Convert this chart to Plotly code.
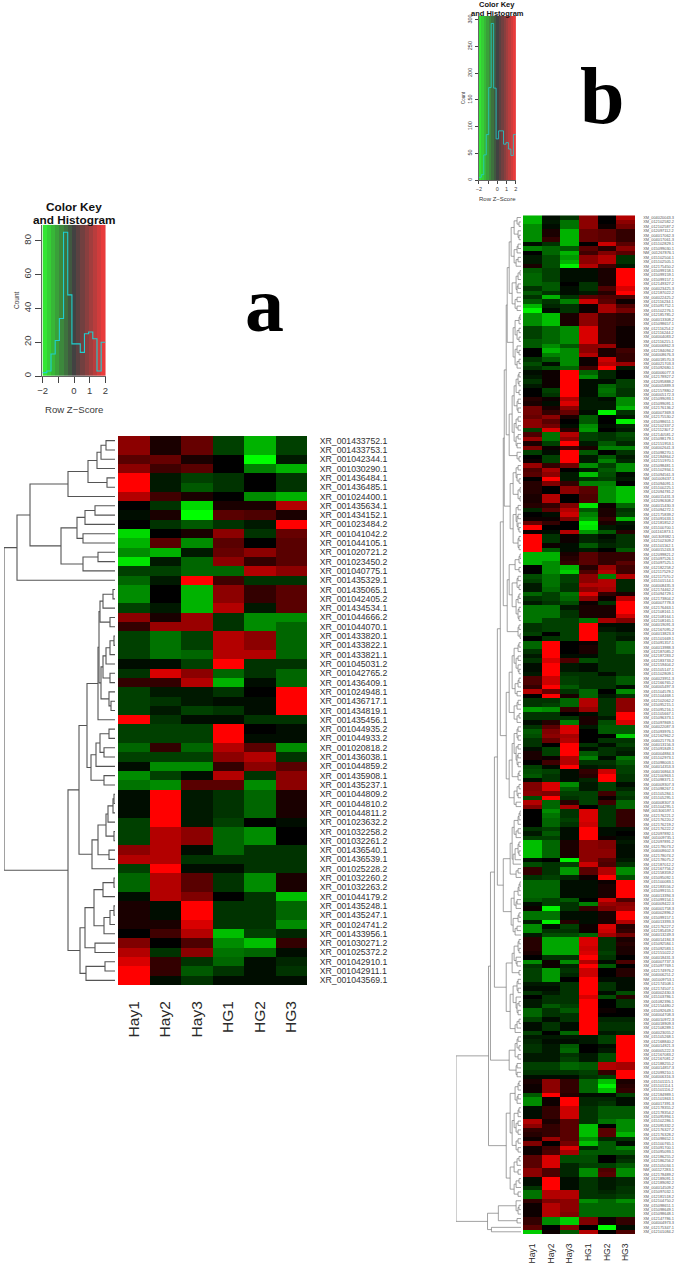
import plotly.graph_objects as go

SAMPLES = ["Hay1", "Hay2", "Hay3", "HG1", "HG2", "HG3"]

# ---------- panel a ----------
a_labels = """XR_001433752.1 XR_001433753.1 XR_001042344.1 XR_001030290.1 XR_001436484.1 XR_001436485.1 XR_001024400.1
XR_001435634.1 XR_001434152.1 XR_001023484.2 XR_001041042.2 XR_001044105.1 XR_001020721.2 XR_001023450.2 XR_001040775.1
XR_001435329.1 XR_001435065.1 XR_001042405.2 XR_001434534.1 XR_001044666.2 XR_001044070.1 XR_001433820.1 XR_001433822.1
XR_001433821.1 XR_001045031.2 XR_001042765.2 XR_001436409.1 XR_001024948.1 XR_001436717.1 XR_001434819.1 XR_001435456.1
XR_001044935.2 XR_001044933.2 XR_001020818.2 XR_001436038.1 XR_001044859.2 XR_001435908.1 XR_001435237.1 XR_001044809.2
XR_001044810.2 XR_001044811.2 XR_001023632.2 XR_001032258.2 XR_001032261.2 XR_001436540.1 XR_001436539.1 XR_001025228.2
XR_001032260.2 XR_001032263.2 XR_001044179.2 XR_001435248.1 XR_001435247.1 XR_001024741.2 XR_001433956.1 XR_001030271.2
XR_001025372.2 XR_001042910.1 XR_001042911.1 XR_001043569.1""".split()

a_values = [
[1.1,0.2,0.8,-0.5,-1.4,-0.5],[1.1,0.2,0.8,-0.5,-1.4,-0.5],[0.7,0.8,0.2,0,-2,-0.2],[1.1,0.5,0.7,0,-1,-1.4],
[2,-0.2,-0.5,-0.4,0,-0.4],[2,-0.2,-0.7,-0.4,0,-0.4],[1.4,0.5,0.2,0,-1.1,-1.4],[0,-0.4,-1.7,0.2,0.2,1.4],
[-0.1,0.2,-2,0.7,0.6,0.2],[0,-0.4,-0.7,-0.4,-0.2,2],[-1.7,0,0.2,1.1,-0.4,0.8],[-1.4,0.7,-1.1,0.7,0,0.7],
[-1.1,-1.4,-0.2,0.8,1.1,0.7],[-1.8,-0.2,-0.8,1.1,0.4,0.7],[-0.5,-0.5,-0.8,-0.8,1.4,1.1],[-0.8,-0.2,2,0.5,-0.4,-0.4],
[-1.1,0,-1.4,1.1,0.4,0.7],[-1.1,0,-1.4,1.1,0.4,0.7],[-0.5,-0.2,-1.4,1.4,-0.2,0.7],[1.1,0.2,1.2,-0.4,-1.1,-1.1],
[0.4,1.2,1.2,-0.4,-1.1,-0.8],[-0.5,-0.9,-0.5,1.4,1.1,-0.8],[-0.5,-0.9,-0.5,1.4,1.1,-0.8],[-0.5,-0.9,-0.8,1.4,1.4,-0.8],
[-0.1,-0.1,-0.5,2,-0.4,-0.4],[-0.4,1.7,1.1,-0.8,-0.4,-0.8],[0.4,0.4,1.4,-1.4,-0.1,-0.8],[-0.5,-0.2,-0.2,-0.4,0,2],
[-0.5,-0.4,-0.2,-0.1,-0.1,2],[-0.5,-0.2,-0.5,-0.4,-0.1,2],[2,-0.4,-0.1,-0.1,-0.4,-0.4],[-0.5,-0.5,-0.5,2,0,-0.1],
[-0.5,-0.5,-0.5,2,-0.1,-0.1],[-0.8,0.4,-0.8,1.4,0.7,-1.1],[-0.5,-0.5,-0.5,1.1,1.4,-0.4],[-0.1,-1.1,-1.1,0.4,1.1,0.7],
[-1.1,-0.5,-0.1,1.4,-0.4,1.1],[-0.9,-1.1,0.7,0.7,-1.1,1.1],[-0.1,2,-0.2,-0.4,-0.8,0.2],[-0.1,2,-0.2,-0.4,-0.8,0.2],
[-0.1,2,-0.2,-0.4,-0.8,0.2],[-0.5,2,-0.2,-0.5,0,-0.1],[-0.5,1.4,1.1,-0.8,-1.1,0],[-0.5,1.4,1.1,-0.8,-1.1,0],
[1.1,1.4,-0.1,-0.8,-0.4,-0.4],[1.4,1.4,-0.4,-0.4,-0.4,-0.4],[-0.5,2,-0.1,-0.1,-0.4,-0.4],[-0.8,1.4,0.7,-0.4,-1.1,0.2],
[-0.8,1.4,0.7,-0.4,-1.1,0.2],[-0.1,1.4,1.0,0,-0.4,-1.5],[0.2,-0.1,2,-0.4,-0.4,-0.8],[0.2,-0.1,2,-0.4,-0.4,-0.8],
[0.2,0.2,1.7,-0.4,-0.4,-1.1],[0,0.5,1.4,-1.5,-0.5,-0.3],[1,0,0.6,-1.1,-1.5,0.4],[1.4,-0.4,1.1,-0.9,-0.8,-0.1],
[1.7,0.4,-0.4,-0.8,-0.1,-0.3],[2,0.4,-0.7,-0.4,-0.1,-0.4],[2,-0.1,-0.4,-0.1,-0.1,-0.1],
]

# nested merges: (height, child, child); 1 is a leaf
a_tree = (111,
  (98,
    (85,
      (47,(27,(18,(14,(9,1,1),1),1),(8,1,1)),1),
      (54,(38,(30,(20,1,1),1),(32,1,1)),(32,(17,1,1),1))),
    1),
  (47,
    (36,
      (28,
        (17,
          (16,
            (15,(12,(2,1,1),1),(5,1,1)),
            (14,(12,(9,(5,(1,1,1),1),1),(5,1,1)),(6,1,(4,1,1)))),
          1),
        (24,(19,(15,(6,1,1),(11,1,1)),1),(11,1,1))),
      (23,(17,(9,(7,(2,(1,1,1),1),1),(1,1,1)),(6,1,1)),1)),
    (35,
      (30,
        (21,(12,(1,1,1),1),(11,(5,(1,1,1),1),1)),
        (20,1,1)),
      (29,(10,1,1),1))))

a_hist_counts = [2,3,13,21,34,85,48,19,19,14,25,26,22,3,20]
b_hist_counts = [5,10,47,85,173,293,172,77,92,92,67,70,58,46,85]
hist_breaks = [-2,-1.733,-1.467,-1.2,-0.933,-0.667,-0.4,-0.133,0.133,0.4,0.667,0.933,1.2,1.467,1.733,2]
key_band_values = [-1.867,-1.6,-1.333,-1.067,-0.8,-0.533,-0.267,0,0.267,0.533,0.8,1.067,1.333,1.6,1.867]

# ---------- panel b ----------
b_labels = """XM_004020043.3 XM_012102582.2 XM_012102587.2 XM_012097112.2 XM_004017062.3 XM_004017061.3 XM_015102829.1 XM_015099030.1
NM_001267876.1 XM_015102504.1 XM_015102505.1 XM_012175450.2 XM_015099158.1 XM_015099159.1 XM_015099157.1 XM_012149327.2 XM_004023425.3
XM_012187022.2 XM_004022425.2 XM_012116234.1 XM_015091752.1 XM_015102276.1 XM_012185785.2 XM_004013308.2 XM_015098657.1 XM_012116254.2
XM_012116244.2 XM_004004083.2 XM_012116215.1 XM_004006862.3 XM_012184094.2 XM_004008676.3 XM_004018570.3 XM_004021703.3 XM_015092680.1
XM_004006077.3 XM_012178927.2 XM_012095888.2 XM_004005889.3
XM_012157880.2 XM_004005172.3 XM_015099093.1 XM_015099091.1 XM_012176136.2 XM_004007369.3 XM_012175530.2 XM_015098651.1 XM_012102337.2
XM_012112307.2 XM_012140581.2 XM_015098179.1 XM_012151953.1 XM_004002641.3 XM_015098270.1 XM_012184864.2 XM_012151970.1 XM_015098481.1
XM_015102934.1 XM_015094561.3 NM_001009437.1 XM_015094091.1 XM_015100225.1 XM_012094781.2 XM_004015431.3 XM_012096308.2 XM_004015430.3
XM_015094272.1 XM_012175839.2 XM_015091633.1 XM_012181852.2 XM_015100700.1 XM_001161873.1 NM_001309382.1 XM_012102309.2 XM_015101162.1
XM_004015243.3 XM_012099821.2 XM_015097526.1 XM_015097525.1 XM_012182258.2 XM_012117529.2
XM_012117570.2 XM_015101514.1 XM_004008435.3 XM_012174462.2 XM_015094729.1 XM_012173804.2 XM_004007778.3 XM_012176463.1 XM_012108161.1
XM_012108164.1 XM_012108165.1 XM_004019091.3 XM_012167095.2 XM_004013823.3 XM_015101669.1 XM_015091357.1 XM_004013988.3 XM_012187085.2
XM_012187283.2 XM_012183733.2 XM_012159404.2 XM_015105147.1 XM_015102809.1 XM_004023951.3 XM_012166765.2 XM_004005497.3 XM_015104578.1
XM_015104468.1 XM_012102062.2 XM_015095215.1 XM_015095216.1 XM_015105667.1 XM_015096373.1 XM_015097869.1 XM_004022087.3 XM_015093976.1
XM_012162962.2 XM_004021776.3 XM_004013156.3 XM_015091849.1
XM_004004884.3 XM_015102973.1 XM_015098003.1 XM_004014353.3 XM_004016864.3 XM_012100963.1 XM_015098371.1 XM_004009307.3 XM_015098267.1
XM_015105284.1 XM_015105295.1 XM_004008307.3 XM_015104295.1 NM_001306597.1 XM_012176221.2 XM_012176220.2 XM_012176219.2 XM_012176222.2
XM_012097892.1 NM_001009735.1 XM_012097891.2 XM_012178073.2 XM_004008602.3 XM_012178074.2 XM_012178075.2 XM_012187012.2 XM_012167756.2
XM_012158359.2 XM_015095092.1 XM_015100083.1 XM_012183556.2 XM_015099155.1 XM_004013394.3 XM_015099154.1 XM_004009422.3 XM_004001758.3
XM_004002896.2 XM_015099157.1 XM_004013393.3 XM_012176227.2 XM_012185459.2
XM_004013249.3 XM_004014184.3 XM_015092584.1 XM_015092583.1 XM_012151022.2 XM_004018431.3 XM_004007737.3 XM_015097769.1 XM_012174976.2
XM_004006251.2 NM_001009753.1 XM_012174508.1 XM_012174507.1 XM_004002430.3 XM_015103786.1 XM_001082396.1 XM_012154480.2 XM_015092649.1
XM_004004708.3 XM_004010972.3 XM_004018909.3 XM_012108289.1 XM_004023055.2 XM_015105268.1 XM_012168840.2 XM_004014921.3 XM_004005222.3
XM_012167083.2 XM_012167081.2 XM_012188255.2 XM_004014857.3 XM_012099210.1 XM_004006316.3 XM_015101115.1 XM_015101114.1 XM_015101116.2
XM_012184989.1 XM_015101863.1
XM_004017391.3 XM_012178355.2 XM_012178354.2 XM_015095994.1 XM_015102286.1 XM_012095332.2 XM_012176327.2 XM_012176328.2 XM_015098652.1
XM_015100765.1 XM_015091700.1 XM_015095093.1 XM_012186255.2 XM_012186256.2 XM_015105034.1 NM_001127283.1 XM_012178489.2 XM_012189091.1
XM_012189092.2 XM_004014509.2 XM_015097032.1 XM_012181518.2 XM_012104750.2 XM_015098651.1 XM_015098649.1 XM_015098648.1 XM_012147786.1
XM_004004973.3 XM_012175347.1 XM_012101084.2""".split()

b_values = [
[-1.4,-0.1,-0.4,1.1,0,1.4],[-1.4,-0.2,-0.9,1.1,0,1.1],[-1.1,-0.1,-0.9,1.1,0.1,0.9],[-1.1,0.2,-1.4,0.8,0.7,0.4],
[-1.1,0.2,-1.4,0.8,0.7,0.4],[-1.1,0.4,-1.4,0.8,0.7,0.4],[-0.1,-0.4,-1.4,0,1.6,0.7],[-1,-0.8,-0.7,0.7,0.3,1.1],
[0,-0.8,-1.4,0.5,1,0.7],[-0.2,-0.6,-1.2,1.1,1.4,-0.4],[-0.2,-0.6,-1.4,1.1,1.4,-0.4],[0.2,-0.6,-1.9,1.4,0.5,-0.2],
[-0.7,-0.5,-0.1,-0.1,0.2,2],[-0.8,-0.5,-0.1,-0.1,0.2,2],[-0.8,-0.5,-0.1,-0.1,0.2,2],[-0.8,-0.7,0,-0.4,0.2,2],
[-0.4,-0.7,-0.1,-0.4,0.6,1.7],[-0.7,-0.4,-0.1,-0.2,0.3,2],[-0.4,-1.4,-0.4,0.7,0.6,0.6],[-0.7,-0.4,-1,1.6,0.7,0.1],
[-1.4,-0.3,-0.4,0.1,1.3,0.6],[-1.9,-0.1,-0.4,0.1,1.3,0.9],[-1.1,-1.5,0.2,1.1,0.4,0.3],[-1.1,-1.5,0.2,1.1,0.4,0.3],
[-1.1,-1.5,0.2,1.1,0.4,0.3],[-0.5,-0.8,-1.1,1.7,0.4,0.1],[-0.5,-0.8,-1.1,1.7,0.4,0.1],[-0.5,-0.8,-1.1,1.7,0.4,0.1],
[-0.7,-0.8,-1.1,1.7,0.4,0.1],[-0.7,-1.1,-0.7,1.1,1.2,0.1],[0,-1.4,-1.1,1.1,0.2,0.5],[0,-1,-1.1,1.4,0.2,0.4],
[-0.4,-0.7,-1.1,0.1,1.6,0.4],[-0.6,-0.1,-1.1,0.1,1.4,1.2],[-0.4,-0.6,-0.8,0.5,2,-0.2],[-0.1,0.1,2,-0.8,-0.3,0],
[-0.2,0.1,2,-1.1,-0.3,0],[-0.4,0.1,2,-0.1,-0.1,-0.5],[-0.2,0.1,2,-0.1,-0.8,-0.5],
[0,-0.5,2,-0.1,-0.9,-0.4],[0,-0.4,2,-0.1,-0.8,-0.4],[0.3,0.1,1.4,-0.2,-0.1,-1.1],[0.2,-0.1,1.7,-0.2,-0.2,-1.1],
[0.9,0.2,1.1,-0.2,-0.2,-1.4],[0.9,0.4,0.8,-0.1,-1.9,-0.4],[0.8,1.1,0.2,-0.7,0,-0.2],[1.1,0.7,0,-0.7,0,-1.9],
[1.1,0.9,-0.1,-1.1,-0.1,-0.3],[-0.5,1.7,0.3,-1.2,0,-0.2],[0.6,-0.9,1.4,-0.5,-0.4,-0.6],[1.2,-0.9,1.1,-0.5,-0.4,-0.5],
[0.2,-0.5,2,-0.2,-0.7,-0.3],[1,0.1,0.5,0.2,-1,-1],[-0.5,-0.1,2,-0.7,0,-0.4],[0,-0.5,2,-0.2,-0.7,-0.2],
[0.1,-0.5,2,-0.2,-1,-0.3],[1.2,0.4,0.9,-1.1,-0.5,-1.1],[0.6,1.3,0,-0.2,-0.7,-1.1],[0.7,1.1,-0.2,-1.5,-0.6,-0.1],
[0,2,-0.2,-0.4,-0.5,-0.2],[0.3,1,0.4,-1,-1,0],[0.3,0,1.1,0.7,-1.1,-1.5],[0.3,0,1.1,0.7,-1.1,-1.5],
[0.2,1.4,0,0.6,-1.1,-1.5],[0.2,1.4,0,0.6,-1.1,-1.5],[0.3,0.4,1,-1.8,0.1,-0.8],[-0.3,0.7,1.4,-0.7,0.2,-0.4],
[0,-0.1,1.6,-1,0.2,-0.5],[0.1,0.1,1,-1.2,0.4,-1.4],[0.8,0.4,0,-1.9,0.2,-0.2],[2,0,0,-1.8,-0.2,-0.1],
[0.1,-0.1,1.4,-1.2,-0.7,0.3],[2,-0.4,0.1,-0.3,-0.1,-0.4],[2,-0.4,0.1,-0.3,-0.2,-0.4],[2,0.1,-0.1,-0.7,-0.3,-0.4],
[2,-0.7,-0.1,-0.2,0,-0.7],[-1.4,-1.4,0.2,0.7,0.4,0.4],[-1.4,-1.4,0.3,0.7,0.4,0.4],[-1.4,-1.1,0.4,0.7,0.4,0.7],
[0,-1.1,-1.4,0.3,1.2,0.5],
[0,-1.1,-1.6,0.6,1.4,0.5],[-0.6,-0.9,-0.5,1.1,-1,1.4],[-0.5,-0.9,-0.5,1.1,1.4,-0.3],[-0.2,-0.9,-0.4,1.4,1.4,-0.3],
[-0.2,-0.8,-0.4,1.1,1.3,-0.3],[-0.8,-0.5,-0.9,1.7,0.4,0.2],[-0.4,-0.5,-0.8,1.1,0.1,1.4],[-0.2,-0.4,-0.6,0.1,-0.4,2],
[-0.9,-0.9,-0.2,0.2,0.2,2],[-0.9,-0.9,-0.4,0.2,0.2,2],[-0.9,-0.9,-0.4,0.2,0.2,1.6],[-0.9,-0.5,-0.5,-0.9,1.3,1],
[-0.4,-0.5,-0.5,2,-0.1,-0.1],[-0.4,-0.5,-0.5,2,-0.2,-0.1],[-0.5,0,-0.5,2,-0.4,-0.3],[0,-0.4,-0.5,2,-0.4,-0.2],
[-0.8,2,0,0.1,-0.4,-0.7],[-0.8,2,0,0.2,-0.4,-0.7],[-0.4,2,0,0.2,-0.4,-0.7],[-0.2,2,-0.1,-0.1,-0.4,-0.4],
[-0.4,1.7,0.6,-0.6,-0.4,-0.4],[-0.1,2,-0.2,-0.1,-0.4,-0.4],[-0.1,2,-0.2,-0.1,-0.4,-0.4],[-0.2,2,-0.4,-0.4,-0.1,-0.4],
[0.6,1.6,-0.5,-0.4,-0.4,-0.7],[0.6,1.6,-0.5,-0.4,-0.4,-0.7],[0.4,2,-0.7,-0.4,-0.4,-0.1],[1.4,0.8,-0.4,-0.8,0,-1.1],
[0,2,0.2,-0.8,-0.2,-0.4],[-0.4,-0.4,-0.8,1.4,-0.4,1.1],[-0.4,-0.5,-0.8,1.4,-0.4,1.1],[-1.2,-1.1,0.4,1.2,-0.4,1.1],
[-0.4,-0.4,0,-0.1,-0.4,2],[-0.4,-0.4,-0.4,0.2,-0.2,2],[-0.1,0.3,-1,0.2,-0.6,1.7],[-0.4,0.7,1.7,-0.2,-0.7,-0.7],
[-0.7,1,1.7,0,-0.7,-0.7],[-0.6,1.1,1.3,0,0,-1.6],[-0.4,0.8,1.4,0,-0.4,-0.4],[-0.4,0,2,-0.4,-0.1,-0.5],
[-0.1,-0.5,2,-0.1,-0.4,-0.3],[0.2,-0.5,2,-0.7,-0.4,-0.2],[0.2,0.1,1.4,-1,-0.1,-0.9],[0,0.5,1.4,-0.4,-0.4,-0.7],
[-0.5,-0.1,2,-0.2,-0.3,-0.5],[-0.6,-0.5,-0.1,0.4,1.6,-0.5],[-0.7,-0.4,-0.1,0.3,2,-0.4],[-0.1,-0.4,-0.1,-0.3,2,-0.4],
[1,1.7,-1.1,-0.2,-0.5,-0.1],[1,1.7,-0.7,-0.2,-0.5,-0.3],[1.1,1,-0.5,-0.5,0.5,-0.5],[-0.6,2,-0.4,-0.5,0.1,-0.4],
[1.4,-0.8,0.3,-0.5,0.5,-0.8],[1,-0.8,1.3,0,-0.4,-0.8],[0,-1.1,-0.4,1.7,-0.4,0.4],[0,-0.9,-0.4,1.7,-0.4,0.4],
[0,-0.8,-0.5,1.7,-0.4,0.4],[0,-0.8,-0.4,1.6,-0.4,0.4],[-0.4,-0.5,-0.1,2,-0.1,-0.1],[-0.2,-0.7,-0.1,2,-0.1,0],
[-0.5,-0.5,-0.1,2,0.1,-0.1],[-1.5,-0.8,0.2,1.1,1,-0.2],[-1.5,-0.8,0.2,1.1,1,-0.1],[-1.5,-0.8,0.2,1.1,1.1,-0.1],
[-1.5,-0.8,0.2,1.1,1.1,-0.1],[-0.1,0,-1.9,1.1,0.7,-0.2],[-0.6,-0.4,-0.5,1.6,0.6,-0.4],[0.4,-0.4,-1.2,0.7,1.4,-1.1],
[0.4,-0.4,-1.2,0.7,1.4,-1.1],[-0.4,-0.5,-0.3,0.1,2,-0.6],[-0.8,-0.8,-0.1,-0.1,0.1,2],[-0.8,-0.8,-0.1,-0.1,0.2,2],
[-0.8,-0.8,-0.1,-0.1,0.2,2],[-0.8,-0.8,-0.1,-0.1,0.2,2],[-0.7,-0.5,-0.7,0,1.6,0.6],[-0.1,-0.5,-0.4,-1,1.2,1.1],
[0.1,-1.9,-0.4,0.4,1,1.2],[-0.9,-0.9,-0.1,-0.1,0.2,2],[-0.9,-0.9,-0.1,-0.1,0.2,2],[-0.2,-1.9,0.3,-0.1,0.2,1.4],
[-1.1,-0.1,-0.5,0.1,1.7,0.3],[-1.1,-0.4,-0.4,0.1,1.6,0.4],[-0.2,-0.6,-0.6,-0.8,1.3,0.9],[0.3,-1.3,-1.3,1.7,-0.4,0.2],
[0.3,-1.3,-1.3,1.7,-0.4,0.3],[0.3,-1.3,-1.3,1.6,-0.4,0.2],[0.2,-1.3,-1.3,1.7,-0.5,0.2],[0,-0.4,-0.4,2,-0.4,0],
[-1.1,0.1,-1.1,1.4,-0.1,0.6],[-0.4,0.1,-0.3,2,-0.7,0],[-0.5,-1.2,-0.4,1.6,0,0.3],[-0.5,-1.2,-0.3,1.6,0,0.3],
[-0.5,-1.2,0,2,-0.1,-0.1],[-0.2,-0.2,-0.4,2,-0.4,-0.1],[-0.1,-0.1,-0.4,2,-0.4,-0.1],[-0.4,-0.2,-0.4,2,-0.1,-0.6],
[0,-0.4,-0.4,1.7,-0.6,0.3],[-0.2,-0.4,-0.4,2,0,-0.4],[-0.2,-0.7,-0.5,2,0,-0.4],[-0.8,-0.4,-0.7,2,0.1,0],
[-0.8,-0.4,-0.4,2,0,0],[-0.5,-0.1,-0.4,2,-0.3,-0.3],[-0.1,-0.4,-0.1,2,-0.4,-0.4],[-0.1,-0.4,-0.1,2,-0.4,-0.4],
[-0.5,0,-0.8,2,-0.2,-0.3],[-0.2,-0.2,-0.2,-0.2,-0.5,2],[-0.3,-0.1,-0.1,-0.2,-0.5,2],[-0.4,-0.2,-0.7,0,-0.1,2],
[-0.4,-0.2,-0.8,0,-0.2,2],[-0.2,-0.2,-0.4,-0.2,-0.6,2],[-0.2,-0.2,-0.5,-0.2,-0.6,2],[-0.5,-0.5,-0.8,-0.7,1.4,1.3],
[-0.5,-0.5,-0.8,-0.7,1.4,1.3],[-0.4,-0.4,-0.4,-0.5,0.4,2],[-0.1,-0.1,-0.1,-0.4,-0.5,2],[0.2,1.1,0.4,-0.8,-1.5,0.2],
[0.1,1.1,0.4,-0.8,-1.9,0.3],[0.1,1.1,0.4,-0.8,-1.5,0.4],[-0.7,2,0.3,-0.1,-0.1,-0.5],
[-1.1,0.1,2,-0.3,-0.3,-0.1],[-1.1,0.1,2,-0.3,-0.4,-0.1],[-0.1,0.4,1.6,-0.4,-0.7,-0.7],[-0.1,0.4,1.6,-0.4,-0.7,-0.7],
[-0.1,0.4,1.6,-0.4,-0.7,-0.7],[1.4,0.2,0.7,-0.4,-0.9,-1.1],[1.1,0.4,0.7,-1.5,0,-1.1],[0.4,0.4,0.7,-1.5,0.7,-1.1],
[0.3,0.4,0.7,-1.5,0.7,-1.4],[0.1,1.2,0.7,-1.1,-0.3,-0.4],[1,0,0.9,-1.5,-0.7,-0.1],[0.1,0.5,1.7,-0.3,-0.7,-1],
[0.1,0.6,1.3,-0.7,-0.7,-0.7],[0.7,1.7,-0.6,-0.6,0,-0.3],[0.7,1.7,-0.6,-0.6,0,-0.4],[0.7,1.7,-0.3,-0.5,-0.5,-0.7],
[1.1,0.6,-0.3,-1.1,0.6,-1.1],[1.1,0.6,-0.3,-1.1,0.7,-1.1],[-0.1,2,-0.1,-0.4,-0.2,-0.3],[-0.1,2,-0.1,-0.4,-0.2,-0.3],
[-0.4,2,-0.1,-0.4,-0.2,-0.4],[-0.9,1.4,1.4,-0.4,-0.3,-0.4],[-0.9,1.4,1.4,-0.4,-0.4,-0.5],[0.4,1.0,1.1,-1.1,-0.8,-1.1],
[0.1,1.4,1.1,-0.8,-0.8,-0.8],[0.1,1.4,1.1,-0.8,-0.8,-0.8],[0.1,1.4,1,-0.8,-0.8,-0.8],[0.4,-1.1,-1.6,1,0.1,0.4],
[0.4,-1.1,-1.6,1,0.1,0.4],[0.7,0,1,0,-2,-0.1],[-1.6,0.1,-0.7,1.4,0,0.6],
]

b_top = (17,
  (15,
    (14,
      (12,
        (10,(7,(4,1,(2,1,1)),(3,1,(2,1,1))),(7,(4,(3,1,1),1),(5,(3,1,1),1))),
        (9,(5,(3,(1,1,1),1),(4,(3,1,1),1)),(6,(4,1,1),(4,1,1)))),
      (8,(6,(2,(1,1,1),1),(4,(2,1,1),(2,1,1))),(6,(4,1,(2,1,1)),(4,(2,1,1),1)))),
    (12,
      (9,
        (7,(5,(3,(2,1,1),(2,1,1)),(2,1,1)),(4,(3,1,1),(3,1,1))),
        (7,(5,(3,1,1),(3,1,1)),(5,(3,1,1),(4,1,1)))),
      (4,1,(2,1,1)))),
  (11,
    (8,(5,(3,1,1),(4,1,(2,1,1))),(3,(1,1,1),(1,1,1))),
    (8,(5,(3,1,1),(4,(3,1,1),(3,1,(2,1,1)))),(3,(2,1,1),(2,1,1)))))
b_mid_a = (14,
  (12,
    (6,(2,(1,1,1),1),(2,1,1)),
    (9,(4,(3,1,1),(2,1,1)),(5,(3,(2,1,1),1),(3,(2,1,1),(2,1,1))))),
  (3,(2,1,1),(1,1,1)))
b_mid_b = (15,
  (12,
    (9,(7,(3,(2,1,1),1),(5,(3,1,1),(3,1,(2,1,1)))),(6,(3,(2,1,1),1),(4,1,1))),
    (7,(4,(3,1,1),1),(4,(2,1,1),1))),
  (12,
    (9,(7,(4,(3,1,1),(3,1,1)),(5,(3,1,1),(4,(3,1,1),(3,1,1)))),(3,(2,1,1),1)),
    (7,(4,(2,1,1),(3,1,1)),(5,1,1))))
b_mid_c = (18,
  (11,
    (9,(7,(3,(2,(1,1,1),1),1),(5,(3,1,1),1)),(8,(6,(3,(2,1,1),(2,1,1)),1),1)),
    (5,(3,1,1),1)),
  (10,(7,(3,(2,(1,1,1),1),1),(5,(4,1,1),1)),(8,(3,(2,1,1),1),(6,(4,1,1),1))))
b_low = (15,
  (9,(7,(3,(2,1,1),(2,1,1)),(5,1,(4,1,1))),(2,1,1)),
  (11,(8,(4,(3,1,1),(3,1,1)),(5,1,(4,(2,1,1),(3,1,1)))),(6,(4,(2,1,1),1),1)))
b_g16 = (12,(6,(4,(3,1,1),(2,1,1)),(3,1,1)),(5,(4,1,1),(4,1,1)))
b_a2 = (15,
  (11,
    (6,(3,(2,1,1),1),(4,(3,1,1),1)),
    (9,(7,(3,(2,1,1),1),(5,(3,1,1),(3,1,1))),(5,(3,1,1),(3,1,1)))),
  (11,(7,(4,(2,1,1),1),(3,1,1)),(7,(5,(2,1,1),1),(3,1,1))))
b_b = (34,(23,(5,1,(3,(2,1,1),1)),(4,1,1)),(30,1,1))
b_tree = (66,
  (33,
    (31,
      (27,
        (24,(21,(18,b_top,b_mid_a),b_mid_b),b_mid_c),
        b_low),
      b_g16),
    b_a2),
  b_b)

W, H = 675, 1265
def hx(a, b):
    return [a / W, b / W]
def vy(top, bottom):
    return [1 - bottom / H, 1 - top / H]

def count(node):
    return 1 if node == 1 else count(node[1]) + count(node[2])

def dendro(node, start=0):
    """Walk the merge tree; returns line coordinates with one row per leaf."""
    xs, ys = [], []
    next_row = [start]
    def walk(n):
        if n == 1:
            r = next_row[0]
            next_row[0] += 1
            return r, 0
        y1, h1 = walk(n[1])
        y2, h2 = walk(n[2])
        h = n[0]
        xs.extend([h1, h, h, h2, None])
        ys.extend([y1, y1, y2, y2, None])
        return (y1 + y2) / 2, h
    walk(node)
    return xs, ys

assert len(a_labels) == len(a_values) == count(a_tree), (len(a_labels), len(a_values), count(a_tree))
assert len(b_labels) == len(b_values) == count(b_tree), (len(b_labels), len(b_values), count(b_tree))

MAIN_SCALE = [[0, "rgb(0,255,0)"], [0.5, "rgb(0,0,0)"], [1, "rgb(255,0,0)"]]
KEY_SCALE = [[0, "rgb(50,242,50)"], [0.5, "rgb(66,66,66)"], [1, "rgb(244,58,58)"]]
TXT = "#3a3a3a"
FONT = "Liberation Sans"

fig = go.Figure()

def add_heat(z, labels, xa, ya, xdom, ydom, cols_font, rows_font, xlen, ylen, rowcol):
    n = len(labels)
    fig.add_trace(go.Heatmap(z=z, x=list(range(6)), y=list(range(n)), zmin=-2, zmax=2,
                             colorscale=MAIN_SCALE, showscale=False, xaxis=xa, yaxis=ya, hoverinfo="skip"))
    xname = "xaxis" + xa[1:]
    yname = "yaxis" + ya[1:]
    fig.update_layout(**{
        xname: dict(domain=hx(*xdom), anchor=ya, automargin=False, range=[-0.5, 5.5], tickmode="array", tickvals=list(range(6)),
                    ticktext=SAMPLES, tickangle=-90, ticks="outside", ticklen=xlen, tickcolor="rgba(0,0,0,0)",
                    tickfont=dict(family=FONT, size=cols_font, color="#2a2a2a"), showgrid=False, zeroline=False, showline=False),
        yname: dict(domain=vy(*ydom), anchor=xa, automargin=False, side="right", range=[n - 0.5, -0.5], tickmode="array",
                    tickvals=list(range(n)), ticktext=labels, ticks="outside", ticklen=ylen, tickcolor="rgba(0,0,0,0)",
                    tickfont=dict(family=FONT, size=rows_font, color=rowcol), showgrid=False, zeroline=False, showline=False),
    })

def add_dendro(tree, n, xa, ya, xdom, ydom, hmax, color, width):
    xs, ys = dendro(tree)
    fig.add_trace(go.Scatter(x=xs, y=ys, mode="lines", line=dict(color=color, width=width), xaxis=xa, yaxis=ya,
                             hoverinfo="skip", showlegend=False, connectgaps=False))
    fig.update_layout(**{
        "xaxis" + xa[1:]: dict(domain=hx(*xdom), anchor=ya, automargin=False, range=[hmax, 0], visible=False),
        "yaxis" + ya[1:]: dict(domain=vy(*ydom), anchor=xa, automargin=False, range=[n - 0.5, -0.5], visible=False),
    })

def add_key(counts, xa, ya, xdom, ydom, ymax, yticks, tick_size, ticklen, lw):
    fig.add_trace(go.Heatmap(z=[key_band_values], x=hist_breaks, y=[0, ymax], zmin=-2, zmax=2, colorscale=KEY_SCALE,
                             showscale=False, xaxis=xa, yaxis=ya, hoverinfo="skip"))
    fig.add_trace(go.Scatter(x=hist_breaks, y=counts + [counts[-1]], mode="lines", line=dict(color="#1fcfd0", width=lw, shape="hv"),
                             xaxis=xa, yaxis=ya, hoverinfo="skip", showlegend=False))
    fig.update_layout(**{
        "xaxis" + xa[1:]: dict(domain=hx(*xdom), anchor=ya, automargin=False, range=[-2.03, 2.03], tickmode="array",
                               tickvals=[-2, -1, 0, 1, 2], ticktext=["\u22122", "", "0", "1", "2"], ticks="outside",
                               ticklen=ticklen, tickcolor="#444", tickwidth=1, showline=True, linecolor="#666",
                               tickfont=dict(family=FONT, size=tick_size, color=TXT), showgrid=False, zeroline=False),
        "yaxis" + ya[1:]: dict(domain=vy(*ydom), anchor=xa, automargin=False, range=[0, ymax], tickmode="array", tickvals=yticks,
                               ticktext=[str(t) for t in yticks], tickangle=-90, ticks="outside", ticklen=ticklen,
                               tickcolor="#444", tickwidth=1, showline=True, linecolor="#666",
                               tickfont=dict(family=FONT, size=tick_size, color=TXT), showgrid=False, zeroline=False),
    })

add_heat(a_values, a_labels, "x", "y", (118, 307), (436, 985), 15.5, 8.7, 9, 10, "#333333")
add_dendro(a_tree, len(a_labels), "x2", "y2", (4, 115), (436, 985), 111, "#555555", 1.1)
add_key(a_hist_counts, "x3", "y3", (42.2, 105.8), (224.7, 376), 89.5, [0, 20, 40, 60, 80], 9.5, 6, 1.1)

add_heat(b_values, b_labels, "x4", "y4", (523, 635), (215.3, 1234), 8.6, 3.9, 5, 6.5, "#555555")
add_dendro(b_tree, len(b_labels), "x5", "y5", (456, 521), (215.3, 1234), 66, "#7a7a7a", 0.7)
add_key(b_hist_counts, "x6", "y6", (478.6, 516.1), (16, 180), 307, [0, 50, 100, 150, 200, 250, 300], 5.5, 3, 0.8)

def note(text, x, y, size, bold=False, family=FONT, color=TXT, angle=0):
    fig.add_annotation(text=f"<b>{text}</b>" if bold else text, x=x / W, y=1 - y / H, xref="paper", yref="paper",
                       xanchor="center", yanchor="middle", showarrow=False, textangle=angle,
                       font=dict(family=family, size=size, color=color))

note("Color Key", 74, 207, 11.8, bold=True, color="#111")
note("and Histogram", 74, 220, 11.8, bold=True, color="#111")
note("Row Z\u2212Score", 74, 409, 9.6)
note("Count", 17, 300, 6.5, angle=-90)
note("Color Key", 497, 5, 7.5, bold=True, color="#111")
note("and Histogram", 497, 13.5, 7.5, bold=True, color="#111")
note("Row Z\u2212Score", 497, 199, 6)
note("Count", 463, 98, 4.5, angle=-90)
note("a", 264, 305, 78, bold=True, family="Liberation Serif", color="#000")
note("b", 602, 96, 80, bold=True, family="Liberation Serif", color="#000")

fig.update_layout(width=W, height=H, margin=dict(l=0, r=0, t=0, b=0), paper_bgcolor="white", plot_bgcolor="white",
                  showlegend=False, autosize=False)
fig.write_html("out.html", config={"displayModeBar": False},
               post_script="document.body.style.margin='0';document.documentElement.style.overflow='hidden';")
